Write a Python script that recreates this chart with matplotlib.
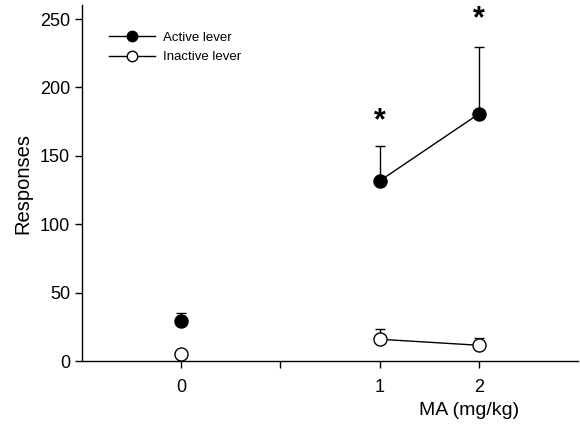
import matplotlib
matplotlib.use("Agg")
import matplotlib.pyplot as plt
import numpy as np

plt.rcParams['font.family'] = ['Liberation Sans', 'DejaVu Sans']

# Data
doses = ["0", "1", "2"]
dose_pos = [0, 2, 3]
active_mean = [29.5, 131.6, 180.6]
active_sem = [5.8, 25.8, 49.2]
inactive_mean = [4.9, 15.9, 11.5]
inactive_sem = [0.0, 7.5, 5.5]
star_pos = [2, 3]
star_y = [175, 250]

fig = plt.figure(figsize=(5.8, 4.29), dpi=100)
ax = fig.add_axes([0.1414, 0.1585, 0.855, 0.829])

ms = 9.4
cap = 3.6
# active
ax.errorbar(dose_pos, active_mean, yerr=[np.zeros(3), active_sem], fmt='none',
            ecolor='black', elinewidth=1, capsize=cap, capthick=1, zorder=2)
ax.plot(dose_pos[1:], active_mean[1:], '-', color='black', lw=1, zorder=2)
ax.plot(dose_pos, active_mean, 'o', color='black', ms=ms, zorder=3)
# inactive
ax.errorbar(dose_pos, inactive_mean, yerr=[np.zeros(3), inactive_sem], fmt='none',
            ecolor='black', elinewidth=1, capsize=cap, capthick=1, zorder=2)
ax.plot(dose_pos[1:], inactive_mean[1:], '-', color='black', lw=1, zorder=2)
ax.plot(dose_pos, inactive_mean, 'o', mfc='white', mec='black', mew=1, ms=ms, zorder=3)

for x, y in zip(star_pos, star_y):
    ax.text(x, y, '*', ha='center', va='center', fontsize=22, fontweight='bold',
            clip_on=False)

# legend proxies
h1, = ax.plot([], [], '-o', color='black', ms=7.5, lw=1)
h2, = ax.plot([], [], '-o', color='black', mfc='white', mec='black', ms=7.5, lw=1)
ax.legend([h1, h2], ["Active lever", "Inactive lever"], loc='upper left',
          bbox_to_anchor=(0.03, 0.96), frameon=False, fontsize=9.5,
          handlelength=3.5, handletextpad=0.6, labelspacing=0.55)

ax.set_xlim(-1, 4)
ax.set_ylim(0, 260)
ax.set_xticks([0, 1, 2, 3])
ax.set_xticklabels(["0", "", "1", "2"])
ax.set_yticks([0, 50, 100, 150, 200, 250])
ax.tick_params(direction='out', length=5, width=1, labelsize=13, colors='black')
ax.tick_params(axis='x', pad=8)
ax.spines['top'].set_visible(False)
ax.spines['right'].set_visible(False)
ax.spines['left'].set_linewidth(1)
ax.spines['bottom'].set_linewidth(1)

ax.set_ylabel("Responses", fontsize=14.5)
ax.set_xlabel("MA (mg/kg)", fontsize=14)
ax.xaxis.set_label_coords(0.78, -0.115)
ax.yaxis.set_label_coords(-0.10, 0.5)

fig.savefig("out.png", dpi=100)
